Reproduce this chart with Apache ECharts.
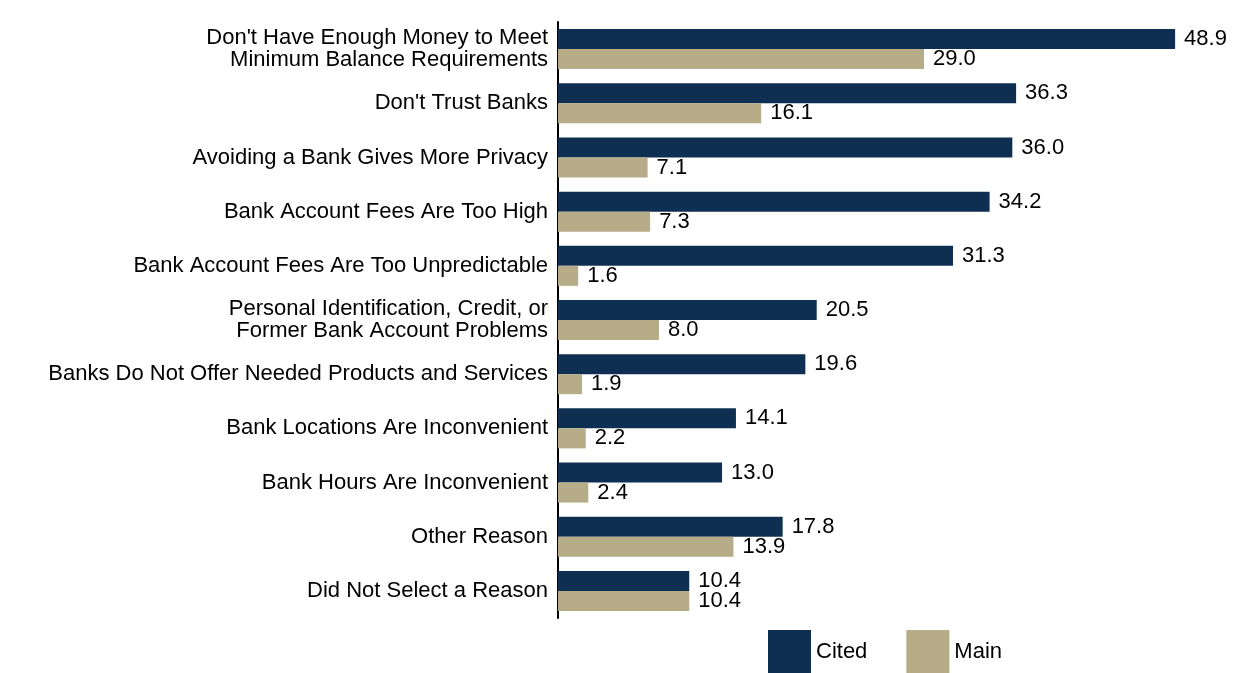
<!DOCTYPE html>
<html>
<head>
<meta charset="utf-8">
<script src="https://cdn.jsdelivr.net/npm/echarts@6/dist/echarts.min.js"></script>
<style>
  html, body { margin: 0; padding: 0; background: #fff; }
  #chart { width: 1239px; height: 673px; }
</style>
</head>
<body>
<div id="chart"></div>
<script>
// reasons for not having a bank account (percent)
const categories = [
  "Don't Have Enough Money to Meet\nMinimum Balance Requirements",
  "Don't Trust Banks",
  "Avoiding a Bank Gives More Privacy",
  "Bank Account Fees Are Too High",
  "Bank Account Fees Are Too Unpredictable",
  "Personal Identification, Credit, or\nFormer Bank Account Problems",
  "Banks Do Not Offer Needed Products and Services",
  "Bank Locations Are Inconvenient",
  "Bank Hours Are Inconvenient",
  "Other Reason",
  "Did Not Select a Reason"
];
const cited = [48.9, 36.3, 36.0, 34.2, 31.3, 20.5, 19.6, 14.1, 13.0, 17.8, 10.4];
const main = [29.0, 16.1, 7.1, 7.3, 1.6, 8.0, 1.9, 2.2, 2.4, 13.9, 10.4];

const chart = echarts.init(document.getElementById('chart'));
const font = 'Liberation Sans, Arial, sans-serif';

const labelOpt = {
  show: true,
  position: 'right',
  distance: 9,
  color: '#000',
  fontSize: 22,
  fontFamily: font,
  formatter: p => p.value.toFixed(1)
};

chart.setOption({
  animation: false,
  grid: { left: 558, right: 50, top: 22, height: 596 },
  legend: {
    data: ['Cited', 'Main'],
    left: 768,
    top: 630,
    padding: 0,
    itemWidth: 43,
    itemHeight: 43,
    itemGap: 39,
    icon: 'rect',
    textStyle: { fontSize: 22, fontFamily: font, color: '#000' }
  },
  xAxis: {
    type: 'value',
    min: 0,
    max: 50,
    show: false
  },
  yAxis: {
    type: 'category',
    data: categories,
    inverse: true,
    axisLine: { lineStyle: { color: '#000', width: 2 } },
    axisTick: { show: false },
    axisLabel: {
      margin: 10,
      color: '#000',
      fontSize: 22,
      fontFamily: font,
      lineHeight: 22,
      align: 'right'
    }
  },
  series: [
    {
      name: 'Cited',
      type: 'bar',
      data: cited,
      barWidth: 20,
      barGap: '0%',
      itemStyle: { color: '#0f2f52' },
      label: labelOpt
    },
    {
      name: 'Main',
      type: 'bar',
      data: main,
      barWidth: 20,
      itemStyle: { color: '#b6ac88' },
      label: labelOpt
    }
  ]
});
</script>
</body>
</html>
